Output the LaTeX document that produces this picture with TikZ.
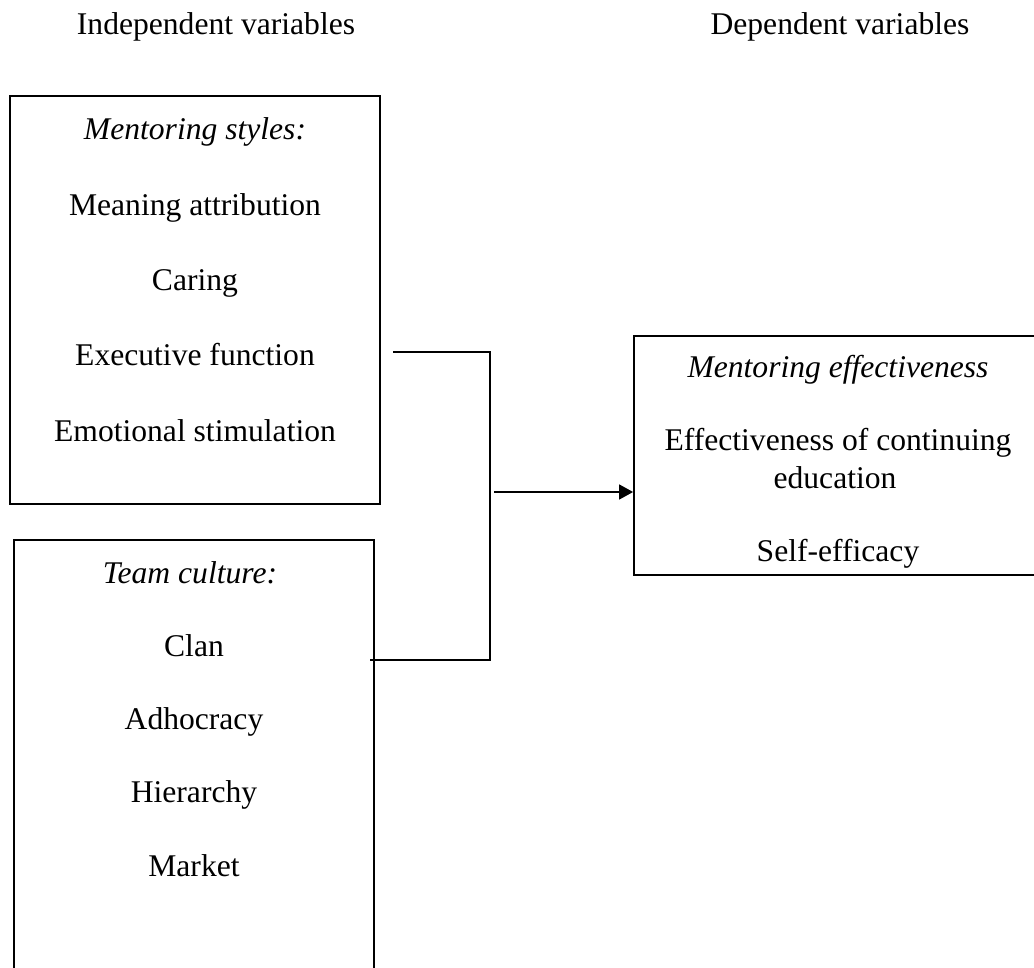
\documentclass[tikz,border=0pt]{standalone}
\usepackage{fontspec}
\setmainfont{Liberation Serif}
\usetikzlibrary{arrows.meta}

\tikzset{
  varbox/.style={draw, line width=0.9pt, minimum width=#1, inner sep=0pt},
  item/.style={anchor=base, inner sep=0pt, font=\fontsize{15.8pt}{17.5pt}\selectfont},
  link/.style={line width=0.75pt},
}

\begin{document}
\begin{tikzpicture}[x=0.5pt, y=-0.5pt]
  \useasboundingbox (0,0) rectangle (1034,968);
  \clip (0,0) rectangle (1034,968);

  % column headings
  \node[item] (indep) at (216,35) {Independent variables};
  \node[item] (dep) at (840,35) {Dependent variables};

  % boxes
  \node[varbox=185pt, minimum height=204pt] (mstyles) at (195,300) {};
  \node[varbox=180pt, minimum height=230pt] (tculture) at (194,770) {};
  \node[varbox=208pt, minimum height=119.5pt] (meffect) at (842,455.5) {};

  % box texts
  \node[item] (mstitle) at (195,140) {\itshape Mentoring styles:};
  \foreach \t [count=\i] in {Meaning attribution, Caring, Executive function, Emotional stimulation}
    \node[item] (ms\i) at (195,140+75.3*\i) {\t};

  \node[item] (tctitle) at (190,583) {\itshape Team culture:};
  \foreach \t [count=\i] in {Clan, Adhocracy, Hierarchy, Market}
    \node[item] (tc\i) at (194,583+73.3*\i) {\t};

  \node[item] (metitle) at (838,378) {\itshape Mentoring effectiveness};
  \node[item] (me1) at (838,451) {Effectiveness of continuing};
  \node[item] (me2) at (835,488) {education};
  \node[item] (me3) at (838,561) {Self-efficacy};

  % connectors
  \coordinate (jtop) at (393,352);
  \coordinate (jtopr) at (490,352);
  \coordinate (jbotr) at (490,660);
  \coordinate (jbot) at (370,660);
  \coordinate (jmid) at (494,492);
  \draw[link] (jtop) -- (jtopr) -- (jbotr) -- (jbot);
  \draw[link, -{Triangle[length=7pt, width=7.5pt]}] (jmid) -- (jmid -| meffect.west);
\end{tikzpicture}
\end{document}
